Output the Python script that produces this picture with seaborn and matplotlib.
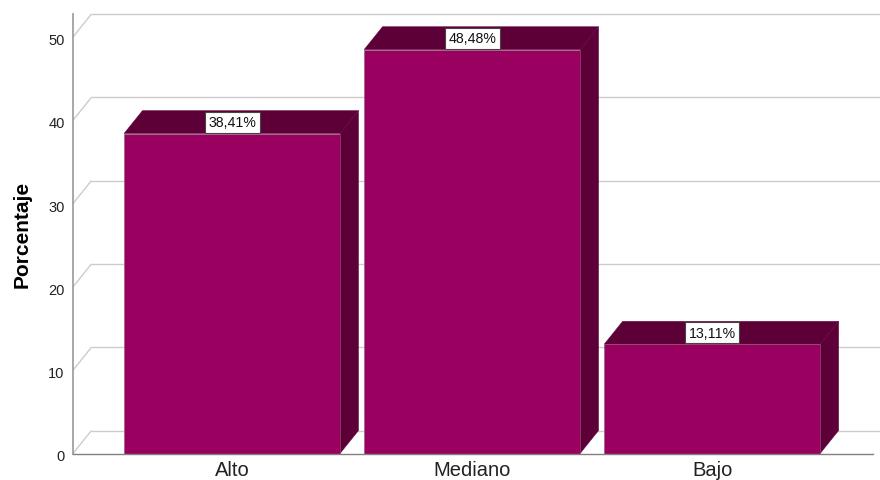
import matplotlib
matplotlib.use("Agg")
import matplotlib.pyplot as plt
import pandas as pd
import seaborn as sns
from matplotlib.patches import Polygon
from matplotlib.transforms import ScaledTranslation

categories = ["Alto", "Mediano", "Bajo"]
percentages = [38.41, 48.48, 13.11]
y_ticks = [0, 10, 20, 30, 40, 50]

front_color = "#990060"
dark_color = "#5e0038"
grid_color = "#cccccc"
axis_color = "#a0a0a0"

# depth of the fake 3D effect, in data units
depth_x = 0.077
depth_y = 2.76

sns.set_theme(style="white")
plt.rcParams["font.family"] = ["Liberation Sans", "DejaVu Sans"]

df = pd.DataFrame({"categoria": categories, "porcentaje": percentages})

fig = plt.figure(figsize=(8.8, 4.81), dpi=100)
ax = fig.add_axes([73 / 880, 1 - 454.5 / 481, 800 / 880, 440 / 481])

sns.barplot(data=df, x="categoria", y="porcentaje", color=front_color, saturation=1,
            width=0.9, edgecolor="#8a5a78", linewidth=0.4, zorder=3, ax=ax)

ax.set_xlim(-0.6625, 2.67)
ax.set_ylim(0, 52.82)

# back wall grid lines with the diagonal going to the axis
x_left = ax.get_xlim()[0]
for tick in y_ticks:
    ax.plot([x_left, x_left + depth_x], [tick, tick + depth_y], color=grid_color, lw=1.0,
            zorder=1, clip_on=False, solid_capstyle="butt")
    ax.plot([x_left + depth_x, 2.705], [tick + depth_y, tick + depth_y], color=grid_color,
            lw=1.0, zorder=1, clip_on=False, solid_capstyle="butt")

# side and top faces of each bar
for bar, label_value in zip(ax.patches, percentages):
    x0 = bar.get_x()
    x1 = x0 + bar.get_width()
    top = bar.get_height()
    side = Polygon([(x1, 0), (x1 + depth_x, depth_y), (x1 + depth_x, top + depth_y), (x1, top)],
                   facecolor=dark_color, edgecolor=dark_color, linewidth=0.3, zorder=2, clip_on=False)
    roof = Polygon([(x0, top), (x0 + depth_x, top + depth_y), (x1 + depth_x, top + depth_y), (x1, top)],
                   facecolor=dark_color, edgecolor=dark_color, linewidth=0.3, zorder=2, clip_on=False)
    ax.add_patch(side)
    ax.add_patch(roof)
    text = f"{label_value:.2f}".replace(".", ",") + "%"
    ax.text(x0 + bar.get_width() / 2, top + depth_y / 2, text, ha="center", va="center",
            fontsize=10.2, color="#111111", zorder=5,
            bbox=dict(boxstyle="square,pad=0.25", facecolor="white", edgecolor="#444444", linewidth=0.8))

ax.set_yticks(y_ticks)
ax.set_xlabel("")
ax.set_ylabel("Porcentaje", fontsize=15, fontweight="bold", color="black", labelpad=12)
ax.tick_params(axis="y", length=0, labelsize=10.5, pad=6, labelcolor="#222222")
ax.tick_params(axis="x", length=0, labelsize=14.5, pad=5, labelcolor="#222222")

# the y tick labels sit slightly below their grid value
nudge = ScaledTranslation(0, -1.5 / 100, fig.dpi_scale_trans)
for label in ax.get_yticklabels():
    label.set_transform(label.get_transform() + nudge)

sns.despine(ax=ax, top=True, right=True)
ax.spines["left"].set_color(axis_color)
ax.spines["left"].set_linewidth(1.3)
ax.spines["bottom"].set_color("#808080")
ax.spines["bottom"].set_linewidth(1.0)
ax.spines["bottom"].set_zorder(4)

fig.savefig("out.png", dpi=100)
